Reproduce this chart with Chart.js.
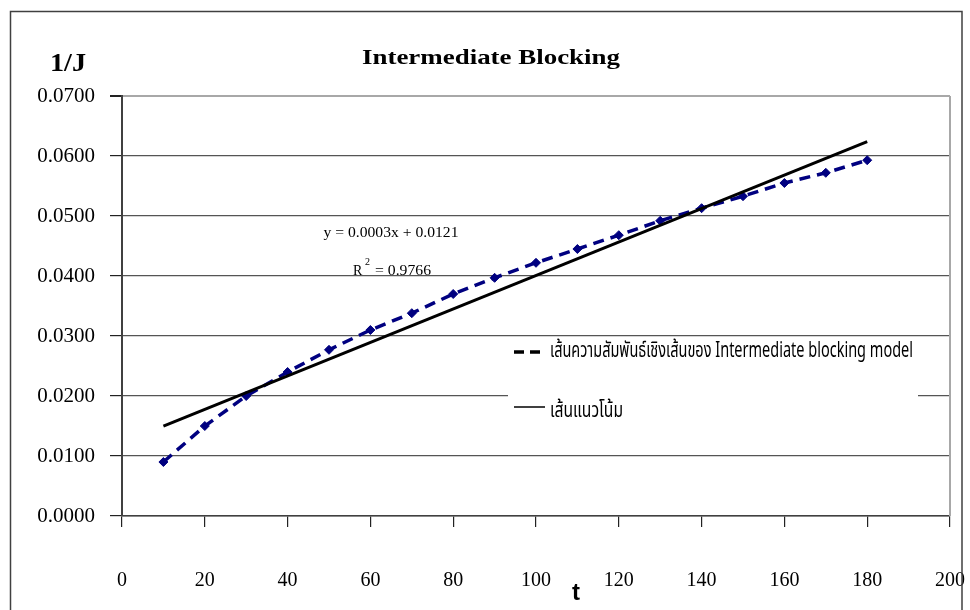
<!DOCTYPE html>
<html>
<head>
<meta charset="utf-8">
<title>Intermediate Blocking</title>
<script src="https://cdn.jsdelivr.net/npm/chart.js@4.4.1/dist/chart.umd.min.js"></script>
<style>
  html, body { margin: 0; padding: 0; background: #fff; }
  canvas { display: block; }
</style>
</head>
<body>
<canvas id="chart" width="970" height="610"></canvas>
<script>
// ข้อมูล 1/J ตามเวลา t
const tValues = [10, 20, 30, 40, 50, 60, 70, 80, 90, 100, 110, 120, 130, 140, 150, 160, 170, 180];
const invJ = [0.0090, 0.0150, 0.0200, 0.0240, 0.0277, 0.0310, 0.0338, 0.0370, 0.0397,
              0.0422, 0.0445, 0.0468, 0.0492, 0.0513, 0.0533, 0.0555, 0.0572, 0.0593];
const xTicks = [0, 20, 40, 60, 80, 100, 120, 140, 160, 180, 200];
const yTicks = [0, 0.01, 0.02, 0.03, 0.04, 0.05, 0.06, 0.07];

const chartTitle = "Intermediate Blocking";
const yTitle = "1/J";
const xTitle = "t";
const eqText = "y = 0.0003x + 0.0121";
const r2Text = "= 0.9766";
const legendLabels = ["เส้นความสัมพันธ์เชิงเส้นของ Intermediate blocking model", "เส้นแนวโน้ม"];

// เส้นแนวโน้มแบบ least squares
function linearFit(xs, ys) {
  const n = xs.length;
  const mx = xs.reduce((a, b) => a + b, 0) / n;
  const my = ys.reduce((a, b) => a + b, 0) / n;
  let sxy = 0, sxx = 0;
  for (let i = 0; i < n; i++) {
    sxy += (xs[i] - mx) * (ys[i] - my);
    sxx += (xs[i] - mx) * (xs[i] - mx);
  }
  const slope = sxy / sxx;
  return { slope, intercept: my - slope * mx };
}
const fit = linearFit(tValues, invJ);
const tFirst = tValues[0], tLast = tValues[tValues.length - 1];
const trendPoints = [
  { x: tFirst, y: fit.intercept + fit.slope * tFirst },
  { x: tLast, y: fit.intercept + fit.slope * tLast },
];

const SERIF = '"Liberation Serif", "Times New Roman", serif';
const SANS = '"Liberation Sans", Arial, sans-serif';
const THAI = '"Noto Sans Thai", "Loma", "Garuda", "Tahoma", "DejaVu Sans", sans-serif';

// วาดข้อความโดยบีบ/ยืดให้ได้ความกว้างที่ต้องการ
function fitText(ctx, text, x, y, width, align) {
  const w = ctx.measureText(text).width;
  const sx = width / w;
  ctx.save();
  ctx.translate(x, y);
  ctx.scale(sx, 1);
  ctx.textAlign = align || "left";
  ctx.fillText(text, 0, 0);
  ctx.restore();
}

const decor = {
  id: "decor",
  beforeDatasetsDraw(chart) {
    const { ctx, chartArea } = chart;
    // เส้นขอบขวาของพื้นที่กราฟ
    ctx.save();
    ctx.strokeStyle = "#a8a8a8";
    ctx.lineWidth = 2;
    ctx.beginPath();
    ctx.moveTo(chartArea.right, chartArea.top);
    ctx.lineTo(chartArea.right, chartArea.bottom);
    ctx.stroke();
    ctx.restore();
  },
  afterDraw(chart) {
    const { ctx } = chart;
    ctx.save();

    // กรอบนอก
    ctx.strokeStyle = "#404040";
    ctx.lineWidth = 1.5;
    ctx.beginPath();
    ctx.moveTo(10.5, 620);
    ctx.lineTo(10.5, 11.5);
    ctx.lineTo(962, 11.5);
    ctx.lineTo(962, 620);
    ctx.stroke();

    ctx.fillStyle = "#000";
    ctx.textBaseline = "middle";

    // ชื่อกราฟ
    ctx.font = "bold 22px " + SERIF;
    fitText(ctx, chartTitle, 491, 58, 258, "center");

    // ชื่อแกน
    ctx.font = "bold 26px " + SERIF;
    fitText(ctx, yTitle, 68, 64, 36, "center");
    ctx.font = "bold 24px " + SANS;
    ctx.textAlign = "center";
    ctx.fillText(xTitle, 576, 593);

    // สมการเส้นแนวโน้ม
    ctx.font = "14px " + SERIF;
    fitText(ctx, eqText, 391, 233, 135, "center");
    ctx.textBaseline = "alphabetic";
    ctx.font = "14px " + SERIF;
    ctx.textAlign = "left";
    ctx.fillText("R", 353, 275);
    ctx.font = "10px " + SERIF;
    ctx.fillText("2", 365, 265);
    ctx.font = "14px " + SERIF;
    fitText(ctx, r2Text, 375, 275, 56, "left");

    // คำอธิบายเส้น
    ctx.fillStyle = "#fff";
    ctx.fillRect(508, 341, 410, 86);
    ctx.lineCap = "butt";
    ctx.strokeStyle = "#000";
    ctx.lineWidth = 3.5;
    ctx.setLineDash([10, 6]);
    ctx.beginPath();
    ctx.moveTo(514, 352);
    ctx.lineTo(541, 352);
    ctx.stroke();
    ctx.setLineDash([]);
    ctx.lineWidth = 1.5;
    ctx.beginPath();
    ctx.moveTo(514, 407);
    ctx.lineTo(545, 407);
    ctx.stroke();

    ctx.fillStyle = "#000";
    ctx.textBaseline = "middle";
    ctx.font = "22px " + THAI;
    fitText(ctx, legendLabels[0], 550, 353, 363, "left");
    fitText(ctx, legendLabels[1], 550, 413, 73, "left");

    ctx.restore();
  },
};

new Chart(document.getElementById("chart"), {
  type: "line",
  data: {
    datasets: [
      {
        label: legendLabels[1],
        data: trendPoints,
        borderColor: "#000",
        borderWidth: 3,
        pointRadius: 0,
        fill: false,
        order: 0,
      },
      {
        label: legendLabels[0],
        data: tValues.map((t, i) => ({ x: t, y: invJ[i] })),
        borderColor: "#000080",
        backgroundColor: "#000080",
        borderWidth: 3.5,
        borderDash: [11, 7],
        pointStyle: "rectRot",
        pointRadius: 4.5,
        pointBorderWidth: 1,
        fill: false,
        order: 1,
      },
    ],
  },
  options: {
    responsive: false,
    animation: false,
    devicePixelRatio: 1,
    layout: { padding: { top: 96, right: 20, left: 0, bottom: 0 } },
    plugins: {
      legend: { display: false },
      tooltip: { enabled: false },
      title: { display: false },
    },
    scales: {
      x: {
        type: "linear",
        min: xTicks[0],
        max: xTicks[xTicks.length - 1],
        afterBuildTicks(scale) {
          scale.ticks = xTicks.map((v) => ({ value: v }));
        },
        afterFit(scale) {
          scale.height = 94;
          // ไม่ต้องเว้นระยะข้างตามความกว้างป้ายแกน
          scale.paddingLeft = 0;
          scale.paddingRight = 0;
        },
        border: { color: "#404040", width: 1.5 },
        grid: { drawOnChartArea: false, drawTicks: true, tickLength: 11, tickColor: "#222", lineWidth: 1.2 },
        ticks: { padding: 42, color: "#000", font: { family: SERIF, size: 20 } },
      },
      y: {
        min: yTicks[0],
        max: yTicks[yTicks.length - 1],
        afterBuildTicks(scale) {
          scale.ticks = yTicks.map((v) => ({ value: v }));
        },
        afterFit(scale) {
          scale.width = 122;
          scale.paddingTop = 0;
          scale.paddingBottom = 0;
        },
        border: { color: "#404040", width: 2 },
        grid: {
          color: (c) => (c.tick && c.tick.value >= 0.0699 ? "#a8a8a8" : "#555"),
          lineWidth: (c) => (c.tick && c.tick.value >= 0.0699 ? 2 : 1.2),
          drawTicks: true,
          tickLength: 12,
          tickColor: "#222",
        },
        ticks: {
          padding: 15,
          color: "#000",
          font: { family: SERIF, size: 21 },
          callback: (v) => Number(v).toFixed(4),
        },
      },
    },
  },
  plugins: [decor],
});
</script>
</body>
</html>
